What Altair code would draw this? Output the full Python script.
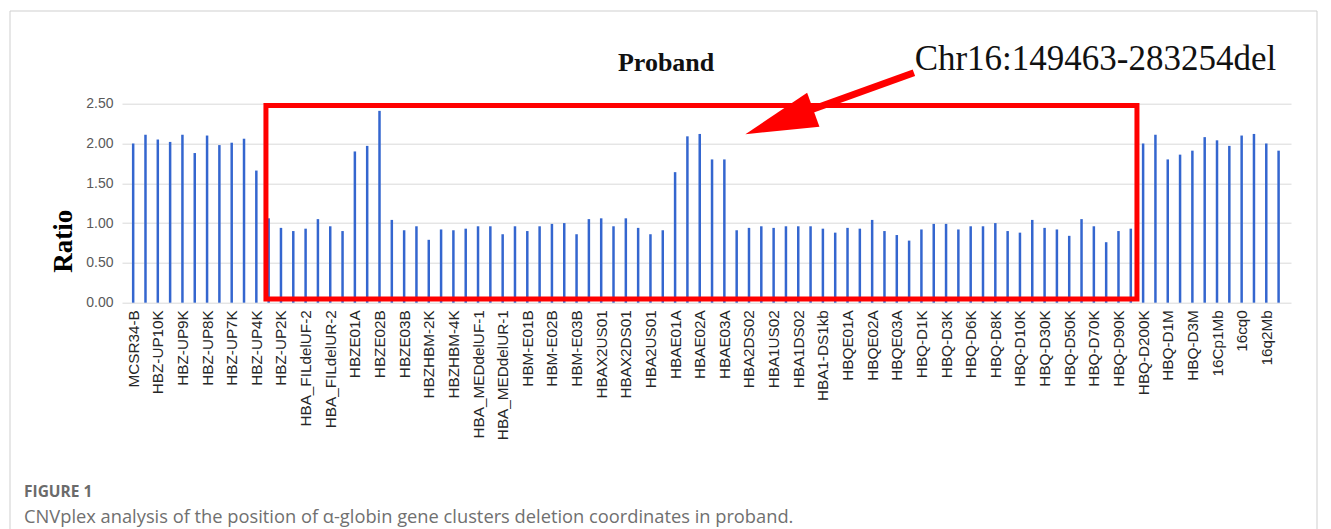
import json
import altair as alt
import pandas as pd

probe_labels = [
    "MCSR34-B", "HBZ-UP10K", "HBZ-UP9K", "HBZ-UP8K", "HBZ-UP7K", "HBZ-UP4K",
    "HBZ-UP2K", "HBA_FILdelUF-2", "HBA_FILdelUR-2", "HBZE01A", "HBZE02B",
    "HBZE03B", "HBZHBM-2K", "HBZHBM-4K", "HBA_MEDdelUF-1", "HBA_MEDdelUR-1",
    "HBM-E01B", "HBM-E02B", "HBM-E03B", "HBAX2US01", "HBAX2DS01", "HBA2US01",
    "HBAE01A", "HBAE02A", "HBAE03A", "HBA2DS02", "HBA1US02", "HBA1DS02",
    "HBA1-DS1kb", "HBQE01A", "HBQE02A", "HBQE03A", "HBQ-D1K", "HBQ-D3K",
    "HBQ-D6K", "HBQ-D8K", "HBQ-D10K", "HBQ-D30K", "HBQ-D50K", "HBQ-D70K",
    "HBQ-D90K", "HBQ-D200K", "HBQ-D1M", "HBQ-D3M", "16Cp1Mb", "16cq0", "16q2Mb",
]

ratios = [
    2.00, 2.11, 2.05, 2.02, 2.11, 1.88, 2.10, 1.98, 2.01, 2.06,
    1.66, 1.06, 0.94, 0.90, 0.93, 1.05, 0.96, 0.90, 1.90, 1.97,
    2.41, 1.04, 0.91, 0.96, 0.79, 0.92, 0.91, 0.93, 0.96, 0.96,
    0.86, 0.96, 0.90, 0.96, 0.99, 1.00, 0.86, 1.05, 1.06, 0.96,
    1.06, 0.94, 0.86, 0.91, 1.64, 2.09, 2.12, 1.80, 1.80, 0.91,
    0.94, 0.96, 0.94, 0.96, 0.96, 0.96, 0.93, 0.88, 0.94, 0.93,
    1.04, 0.90, 0.85, 0.78, 0.92, 0.99, 0.99, 0.92, 0.96, 0.96,
    1.00, 0.90, 0.88, 1.04, 0.94, 0.92, 0.84, 1.05, 0.96, 0.76,
    0.90, 0.93, 2.00, 2.11, 1.80, 1.86, 1.91, 2.08, 2.04, 1.97,
    2.10, 2.12, 2.00, 1.91,
]

y_ticks = [0.0, 0.5, 1.0, 1.5, 2.0, 2.5]

# annotation geometry (in data units)
box_x = [10.78, 81.5]
box_y = [0.046, 2.477]
shaft_x = [63.39, 55.0]
shaft_y = [2.889, 2.42]
head_x = [49.71, 54.72, 55.72]
head_top = [2.116, 2.638, 2.211]
head_bot = [2.116, 2.195, 2.211]

title_text = "Proband"
title_pos = [43.27, 2.91]
note_text = "Chr16:149463-283254del"
note_pos = [63.45, 2.925]
fig_label = "FIGURE 1"
caption = "CNVplex analysis of the position of \u03b1-globin gene clusters deletion coordinates in proband."

bars_df = pd.DataFrame({"idx": list(range(len(ratios))), "ratio": ratios})

xs = alt.Scale(domain=[-0.5, 93.6], nice=False, zero=False)
ys = alt.Scale(domain=[0, 2.5], nice=False)

label_expr = json.dumps(probe_labels) + "[datum.value / 2]"

x_axis = alt.Axis(
    values=list(range(0, len(ratios), 2)), labelExpr=label_expr,
    labelAngle=270, labelFontSize=15.3, labelFont="Liberation Sans",
    labelColor="#262626", labelPadding=7, ticks=False, domain=False,
    grid=False, title=None, labelOverlap=False, labelFlush=False)
y_axis = alt.Axis(
    values=y_ticks, format=".2f", labelFontSize=14, labelFont="Liberation Sans",
    labelColor="#595959", labelPadding=9, ticks=False, domain=False,
    grid=True, gridColor="#d9d9d9", title="Ratio",
    titleFont="Liberation Serif", titleFontSize=27, titleFontWeight="bold",
    titleColor="#000000", titleAngle=270, titleX=-51, titleY=137,
    titleAlign="center", titleBaseline="alphabetic")


def X():
    return alt.X("idx:Q", scale=xs, axis=x_axis)


def Y():
    return alt.Y("ratio:Q", scale=ys, axis=y_axis)


bars = alt.Chart(bars_df).mark_bar(size=2.5, color="#3466CF").encode(x=X(), y=Y())

box_df = pd.DataFrame({"idx": [box_x[0]], "idx2": [box_x[1]], "ratio": [box_y[0]], "ratio2": [box_y[1]]})
box = alt.Chart(box_df).mark_rect(fillOpacity=0, stroke="#FF0000", strokeWidth=5).encode(
    x=X(), x2="idx2:Q", y=Y(), y2="ratio2:Q",
)

shaft_df = pd.DataFrame({"idx": shaft_x, "ratio": shaft_y})
shaft = alt.Chart(shaft_df).mark_line(color="#FF0000", strokeWidth=7, strokeCap="butt").encode(
    x=X(), y=Y(),
)

head_df = pd.DataFrame({"idx": head_x, "ratio": head_top, "ratio2": head_bot})
head = alt.Chart(head_df).mark_area(color="#FF0000", opacity=1, orient="vertical").encode(
    x=X(), y=Y(), y2="ratio2:Q",
)

title_df = pd.DataFrame({"idx": [title_pos[0]], "ratio": [title_pos[1]], "t": [title_text]})
title_mark = alt.Chart(title_df).mark_text(
    font="Liberation Serif", fontSize=26, fontWeight="bold", align="center",
    baseline="alphabetic", color="#111111").encode(x=X(), y=Y(), text="t:N")

note_df = pd.DataFrame({"idx": [note_pos[0]], "ratio": [note_pos[1]], "t": [note_text]})
note_mark = alt.Chart(note_df).mark_text(
    font="Liberation Serif", fontSize=35, align="left",
    baseline="alphabetic", color="#111111").encode(x=X(), y=Y(), text="t:N")

one = pd.DataFrame({"a": [0]})
frame = alt.Chart(one).mark_rect(fillOpacity=0, stroke="#cfcfcf", strokeWidth=1).encode(
    x=alt.value(-112), x2=alt.value(1195), y=alt.value(-92.7), y2=alt.value(440))

fig_mark = alt.Chart(one).mark_text(
    font="Open Sans", fontSize=15.5, fontWeight="bold", align="left",
    baseline="alphabetic", color="#6b6b6b").encode(
    x=alt.value(-98), y=alt.value(393.8), text=alt.value(fig_label))

cap_mark = alt.Chart(one).mark_text(
    font="Open Sans", fontSize=18.3, align="left",
    baseline="alphabetic", color="#707070").encode(
    x=alt.value(-98), y=alt.value(419.3), text=alt.value(caption))

chart = alt.layer(
    frame, bars, box, shaft, head, title_mark, note_mark, fig_mark, cap_mark
).properties(
    width=1169, height=199,
    padding={"left": 114, "top": 95.7, "right": 32, "bottom": 226},
    autosize=alt.AutoSizeParams(type="none"),
    background="white",
).configure_view(stroke=None)

chart.save("out.html", embed_options={"renderer": "svg", "actions": False})
